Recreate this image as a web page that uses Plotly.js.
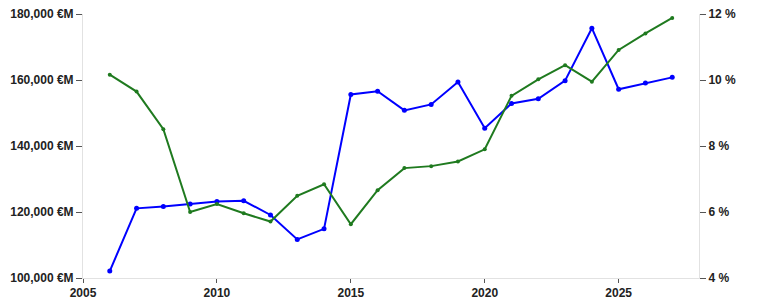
<!DOCTYPE html>
<html>
<head>
<meta charset="utf-8">
<script src="https://cdn.plot.ly/plotly-3.0.1.min.js"></script>
<style>html,body{margin:0;padding:0;background:#fff}#chart{width:759px;height:306px}</style>
</head>
<body>
<div id="chart"></div>
<script>
var years = [2006,2007,2008,2009,2010,2011,2012,2013,2014,2015,2016,2017,2018,2019,2020,2021,2022,2023,2024,2025,2026,2027];
var amountMillions = [102100,121100,121700,122400,123200,123400,119100,111700,114900,155600,156600,150800,152600,159400,145400,152900,154300,159800,175700,157200,159100,160800];
var percentValues = [10.16,9.65,8.51,6.00,6.24,5.96,5.71,6.49,6.84,5.63,6.66,7.33,7.39,7.53,7.90,9.52,10.02,10.45,9.95,10.91,11.41,11.88];
var xTicks = [2005,2010,2015,2020,2025];
var leftTicks = [100000,120000,140000,160000,180000];
var leftTickLabels = ['100,000 €M','120,000 €M','140,000 €M','160,000 €M','180,000 €M'];
var rightTicks = [4,6,8,10,12];
var rightTickLabels = ['4 %','6 %','8 %','10 %','12 %'];

var tickFont = {family:'Liberation Sans, Arial, sans-serif', size:12, weight:'bold', color:'#222'};

var traces = [
  {x:years, y:amountMillions, type:'scatter', mode:'lines+markers', yaxis:'y',
   line:{color:'#0000ff', width:2}, marker:{color:'#0000ff', size:5}, hoverinfo:'none'},
  {x:years, y:percentValues, type:'scatter', mode:'lines+markers', yaxis:'y2',
   line:{color:'#1f7a1f', width:2}, marker:{color:'#1f7a1f', size:4}, hoverinfo:'none'}
];

var layout = {
  width:759, height:306,
  margin:{l:83, r:60, t:14, b:28},
  paper_bgcolor:'#fff', plot_bgcolor:'#fff',
  showlegend:false,
  xaxis:{range:[2005,2028], tickmode:'array', tickvals:xTicks, ticktext:xTicks.map(String),
    showgrid:false, zeroline:false, showline:true, linecolor:'#e2e2e2', linewidth:1,
    ticks:'outside', ticklen:4, tickcolor:'#555', tickfont:tickFont},
  yaxis:{range:[100000,180000], tickmode:'array', tickvals:leftTicks, ticktext:leftTickLabels,
    showgrid:false, zeroline:false, showline:true, linecolor:'#e2e2e2', linewidth:1,
    ticks:'outside', ticklen:6, tickcolor:'#555', tickfont:tickFont},
  yaxis2:{range:[4,12], tickmode:'array', tickvals:rightTicks, ticktext:rightTickLabels, overlaying:'y', side:'right',
    showgrid:false, zeroline:false, showline:true, linecolor:'#e2e2e2', linewidth:1,
    ticks:'outside', ticklen:6, tickcolor:'#555', tickfont:tickFont}
};

Plotly.newPlot('chart', traces, layout, {staticPlot:true, displayModeBar:false});
</script>
</body>
</html>
